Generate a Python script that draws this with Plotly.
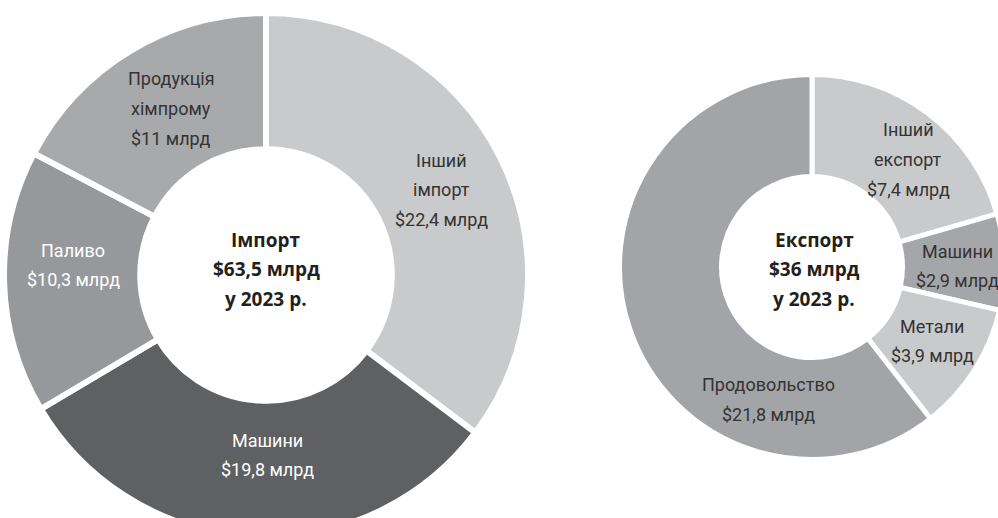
import plotly.graph_objects as go

W, H = 1010, 540

imp_labels = [["Інший", "імпорт"], ["Машини"], ["Паливо"], ["Продукція", "хімпрому"]]
imp_values = [22.4, 19.8, 10.3, 11.0]
imp_value_text = ["$22,4 млрд", "$19,8 млрд", "$10,3 млрд", "$11 млрд"]
imp_colors = ["#c9cacc", "#5f6062", "#97989b", "#a8a9ab"]
imp_text_colors = ["#333333", "#ffffff", "#ffffff", "#333333"]
imp_total = ["Імпорт", "$63,5 млрд", "у 2023 р."]

exp_labels = [["Інший", "експорт"], ["Машини"], ["Метали"], ["Продовольство"]]
exp_values = [7.4, 2.9, 3.9, 21.8]
exp_value_text = ["$7,4 млрд", "$2,9 млрд", "$3,9 млрд", "$21,8 млрд"]
exp_colors = ["#c9cacc", "#a5a6a9", "#c9cacc", "#a3a4a7"]
exp_text_colors = ["#333333", "#333333", "#333333", "#333333"]
exp_total = ["Експорт", "$36 млрд", "у 2023 р."]


def domain(cx, cy, r):
    return dict(x=[(cx - r) / W, (cx + r) / W],
                y=[(H - (cy + r)) / H, (H - (cy - r)) / H])


FONT = "Roboto, sans-serif"
LINE = 29.5

fig = go.Figure()
fig.add_trace(go.Pie(
    labels=[" ".join(l) for l in imp_labels], values=imp_values,
    sort=False, direction="clockwise", rotation=0, hole=0.48,
    marker=dict(colors=imp_colors, line=dict(color="white", width=6)),
    textinfo="none", hoverinfo="label+value", showlegend=False,
    domain=domain(266, 275, 262),
))
fig.add_trace(go.Pie(
    labels=[" ".join(l) for l in exp_labels], values=exp_values,
    sort=False, direction="clockwise", rotation=0, hole=0.47,
    marker=dict(colors=exp_colors, line=dict(color="white", width=5)),
    textinfo="none", hoverinfo="label+value", showlegend=False,
    domain=domain(812, 267, 192.5),
))

# (x, y of first line) for each slice label
imp_pos = [(441, 160), (267, 440), (73, 250), (171, 79)]
exp_pos = [(908, 130), (957, 251), (932, 326), (768, 385)]


def add_lines(lines, x, y0, size, color, bold=False, family=FONT):
    for i, line in enumerate(lines):
        fig.add_annotation(x=x / W, y=1 - (y0 + i * LINE) / H, xref="paper", yref="paper",
                           text=f"<b>{line}</b>" if bold else line, showarrow=False,
                           font=dict(family=family, size=size, color=color),
                           xanchor="center", yanchor="middle", align="center")


for labs, vals, cols, pos in [(imp_labels, imp_value_text, imp_text_colors, imp_pos),
                              (exp_labels, exp_value_text, exp_text_colors, exp_pos)]:
    for lab, val, col, (x, y) in zip(labs, vals, cols, pos):
        add_lines(lab + [val], x, y, 18, col)

add_lines(imp_total, 266, 240, 19, "#231f20", bold=True, family="Open Sans, sans-serif")
add_lines(exp_total, 814, 240, 19, "#231f20", bold=True, family="Open Sans, sans-serif")

fig.update_layout(width=W, height=H, margin=dict(l=0, r=0, t=0, b=0),
                  paper_bgcolor="white", plot_bgcolor="white")

fig.write_html("out.html", config={"displayModeBar": False},
               post_script="document.body.style.margin='0';document.body.style.overflow='hidden';document.documentElement.style.overflow='hidden';")
